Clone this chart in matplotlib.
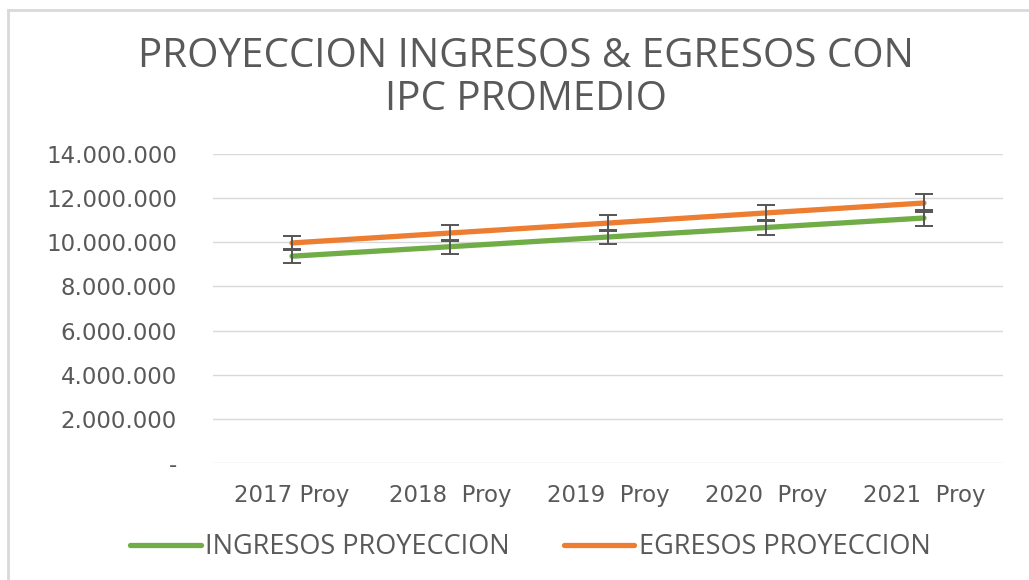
import matplotlib.pyplot as plt
from matplotlib.lines import Line2D
from matplotlib.ticker import FuncFormatter

years = ["2017 Proy", "2018  Proy", "2019  Proy", "2020  Proy", "2021  Proy"]
ingresos = [9370000, 9800000, 10240000, 10670000, 11100000]
egresos = [9970000, 10420000, 10870000, 11330000, 11780000]
err_pct = 0.033

green = "#70AD47"
orange = "#ED7D31"
txt = "#595959"

plt.rcParams['font.family'] = ['Open Sans', 'DejaVu Sans']

fig = plt.figure(figsize=(10.29, 5.8), dpi=100)
# chart frame: only left and top edges are visible in the picture
bx, by = 8 / 1029, 1 - 10 / 580
fig.add_artist(Line2D([bx, bx], [0, by], transform=fig.transFigure, color="#D9D9D9", lw=2))
fig.add_artist(Line2D([bx, 1], [by, by], transform=fig.transFigure, color="#D9D9D9", lw=2))

ax = fig.add_axes([213 / 1029, 1 - 463 / 580, 790 / 1029, 309 / 580])
x = list(range(len(years)))

ax.plot(x, ingresos, color=green, lw=3.8, solid_capstyle="round", label="INGRESOS PROYECCION", zorder=3)
ax.plot(x, egresos, color=orange, lw=3.8, solid_capstyle="round", label="EGRESOS PROYECCION", zorder=3)
ax.errorbar(x, ingresos, yerr=[v * err_pct for v in ingresos], fmt="none",
            ecolor="#555555", elinewidth=1.4, capsize=6.5, capthick=1.4, zorder=4)
ax.errorbar(x, egresos, yerr=[v * err_pct for v in egresos], fmt="none",
            ecolor="#555555", elinewidth=1.4, capsize=6.5, capthick=1.4, zorder=4)

ax.set_xlim(-0.5, len(years) - 0.5)
ax.set_ylim(0, 14000000)
ax.set_yticks(range(0, 14000001, 2000000))


def fmt(v, pos):
    if v == 0:
        return "-"
    return f"{int(v):,}".replace(",", ".")


ax.yaxis.set_major_formatter(FuncFormatter(fmt))
ax.set_xticks(x)
ax.set_xticklabels(years)
ax.tick_params(axis="y", length=0, pad=26, labelcolor=txt)
ax.tick_params(axis="x", length=0, pad=15, labelcolor=txt)
for lab in ax.get_yticklabels() + ax.get_xticklabels():
    lab.set_family(["DejaVu Sans"])
    lab.set_fontsize(16.5)
ax.grid(axis="y", color="#D9D9D9", lw=1)
ax.set_axisbelow(True)
for s in ax.spines.values():
    s.set_visible(False)

fig.text(526 / 1029, 1 - 57 / 580, "PROYECCION INGRESOS & EGRESOS CON", ha="center", va="center",
         fontsize=29, color=txt)
fig.text(526 / 1029, 1 - 100 / 580, "IPC PROMEDIO", ha="center", va="center",
         fontsize=29, color=txt)

leg = fig.legend(loc="center", bbox_to_anchor=(530 / 1029, 1 - 547 / 580), ncol=2, frameon=False,
                 handlelength=2.62, handletextpad=0.15, columnspacing=2.0,
                 prop={"size": 19.5})
for t in leg.get_texts():
    t.set_color(txt)

fig.savefig("out.png", dpi=100)
